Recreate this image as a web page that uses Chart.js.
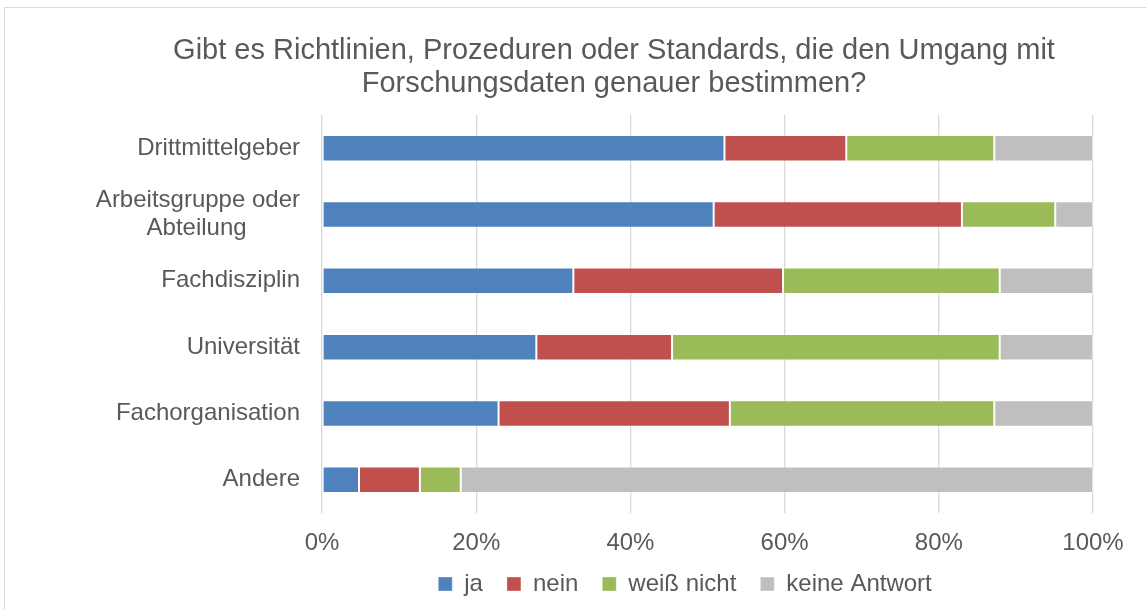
<!DOCTYPE html>
<html>
<head>
<meta charset="utf-8">
<script src="https://cdn.jsdelivr.net/npm/chart.js@4"></script>
<style>
  body { margin: 0; background: #fff; }
  #wrap { width: 1146px; height: 610px; position: relative; }
</style>
</head>
<body>
<div id="wrap"><canvas id="chart"></canvas></div>
<script>
const categories = [
  "Drittmittelgeber",
  ["Arbeitsgruppe oder", "Abteilung        "],
  "Fachdisziplin",
  "Universität",
  "Fachorganisation",
  "Andere",
];
const ja = [52.2, 50.8, 32.6, 27.8, 22.9, 4.8];
const nein = [15.8, 32.2, 27.2, 17.6, 30.0, 7.9];
const weissNicht = [19.2, 12.1, 28.1, 42.5, 34.3, 5.3];
const keineAntwort = [12.8, 4.9, 12.1, 12.1, 12.8, 82.0];
const titleLines = [
  "Gibt es Richtlinien, Prozeduren oder Standards, die den Umgang mit",
  "Forschungsdaten genauer bestimmen?",
];

const textColor = "#595959";
const legendPad = 24;
const padLeft = 10;
Chart.defaults.font.family = '"Liberation Sans", Arial, sans-serif';
Chart.defaults.color = textColor;

// title and frame drawn by hand so the title can sit apart from the legend
const frameAndTitle = {
  id: "frameAndTitle",
  afterLayout(chart) {
    // Excel centres the legend a bit right of the title
    const lg = chart.legend;
    const dx = 685 - (lg.left + lg.right) / 2;
    const dy = 584 - (lg.top + legendPad + 12);
    lg.left += dx;
    lg.right += dx;
    lg.top += dy;
    lg.bottom += dy;
  },
  afterDraw(chart) {
    const ctx = chart.ctx;
    ctx.save();
    ctx.strokeStyle = "#d9d9d9";
    ctx.lineWidth = 1;
    ctx.beginPath();
    ctx.moveTo(4.5, 610);
    ctx.lineTo(4.5, 7.5);
    ctx.lineTo(1146, 7.5);
    ctx.stroke();
    ctx.fillStyle = textColor;
    ctx.font = '29px "Liberation Sans", Arial, sans-serif';
    ctx.textAlign = "center";
    ctx.textBaseline = "alphabetic";
    ctx.fillText(titleLines[0], 614, 59);
    ctx.fillText(titleLines[1], 614, 92);
    ctx.restore();
  },
};

const mk = (label, data, color) => ({
  label: label,
  data: data,
  backgroundColor: color,
  borderColor: "rgba(255,255,255,0.35)",
  borderWidth: 1,
  borderSkipped: false,
  barPercentage: 0.4,
  categoryPercentage: 1,
});

new Chart("chart", {
  type: "bar",
  data: {
    labels: categories,
    datasets: [
      mk("ja", ja, "#4F81BD"),
      mk("nein", nein, "#C0504D"),
      mk("weiß nicht", weissNicht, "#9BBB59"),
      mk("keine Antwort", keineAntwort, "#BFBFBF"),
    ],
  },
  options: {
    indexAxis: "y",
    responsive: true,
    maintainAspectRatio: false,
    animation: false,
    layout: { padding: { left: padLeft, right: 53, top: 115, bottom: 0 } },
    scales: {
      x: {
        stacked: true,
        min: 0,
        max: 100,
        ticks: {
          stepSize: 20,
          padding: 16,
          font: { size: 24 },
          callback: (v) => v + "%",
        },
        grid: { color: "#d9d9d9", lineWidth: 1.3, drawTicks: false },
        border: { display: false },
        afterFit: (scale) => { scale.height = 610 - (legendPad + 34) - 513; },
      },
      y: {
        stacked: true,
        ticks: { padding: 22, font: { size: 24, lineHeight: 28 / 24 } },
        grid: { display: false, drawTicks: false },
        border: { display: false },
        afterFit: (scale) => { scale.width = 322 - padLeft; },
      },
    },
    plugins: {
      title: { display: false },
      tooltip: { enabled: false },
      legend: {
        position: "bottom",
        labels: {
          boxWidth: 14,
          boxHeight: 14,
          padding: legendPad,
          font: { size: 24 },
          color: textColor,
        },
      },
    },
  },
  plugins: [frameAndTitle],
});
</script>
</body>
</html>
